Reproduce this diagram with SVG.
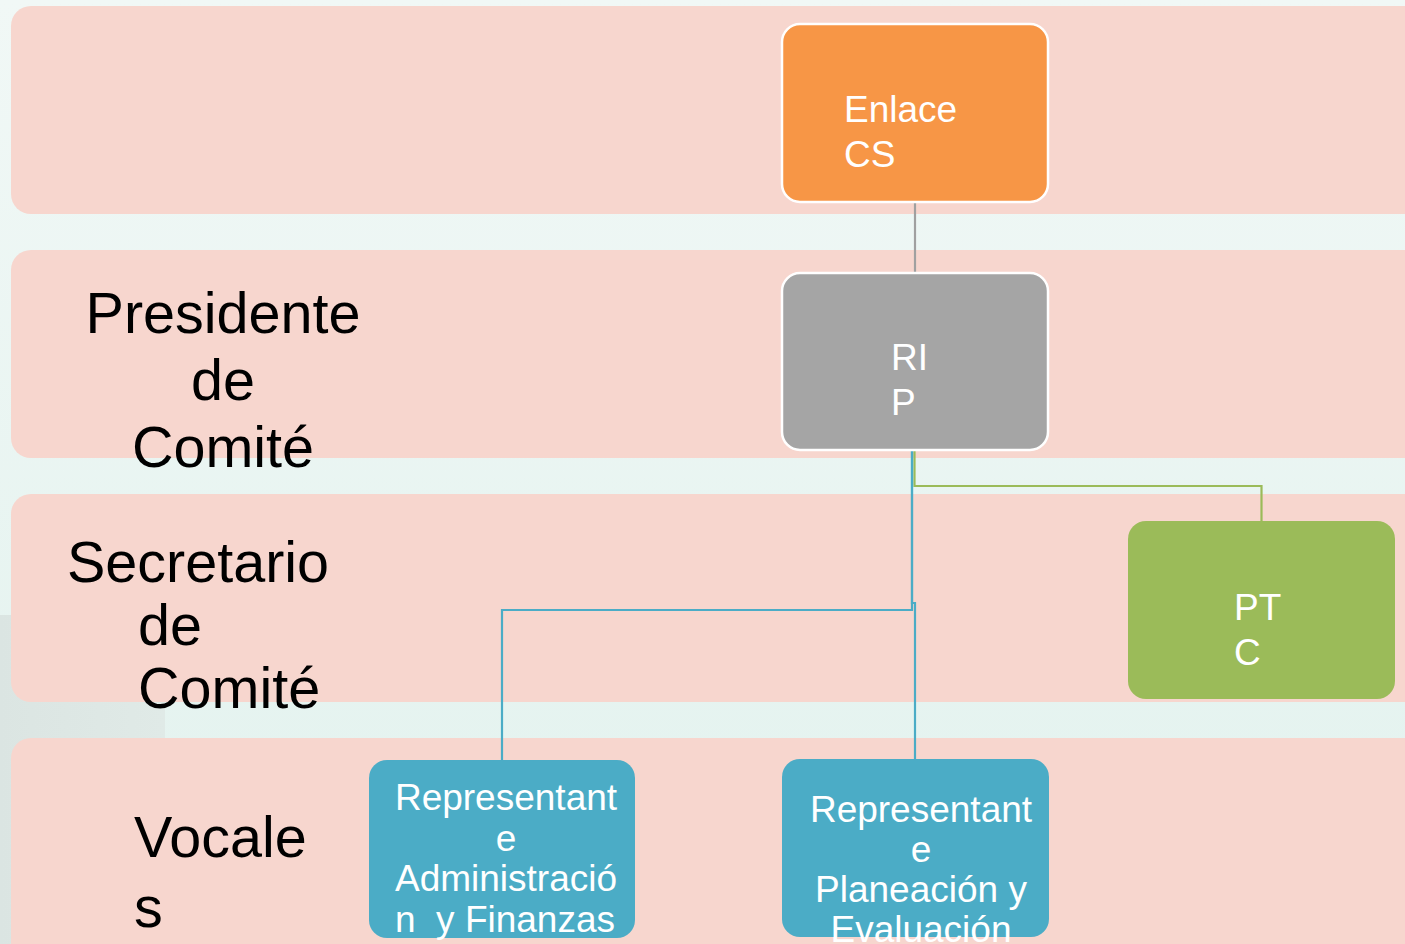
<svg xmlns="http://www.w3.org/2000/svg" width="1405" height="944" viewBox="0 0 1405 944">
<defs>
<linearGradient id="bg" x1="0" y1="0" x2="0" y2="1">
<stop offset="0" stop-color="#f1f8f6"/>
<stop offset="1" stop-color="#e2f2ee"/>
</linearGradient>
<linearGradient id="patch" x1="0" y1="0" x2="1" y2="0">
<stop offset="0" stop-color="#dbe5e2"/>
<stop offset="1" stop-color="#e0eae7"/>
</linearGradient>
</defs>
<style>
.band{fill:#f7d6ce}
.lbl{font-family:"Liberation Sans",Arial,sans-serif;font-size:57.5px;fill:#000}
.nt{font-family:"Liberation Sans",Arial,sans-serif;font-size:37px;fill:#fff}
.outline{stroke:#fff;stroke-width:2.5}
.conn{fill:none;stroke-width:2.2}
.pre{white-space:pre}
</style>
<rect x="0" y="0" width="1405" height="944" fill="url(#bg)"/>
<rect x="0" y="615" width="165" height="329" fill="url(#patch)"/>
<g id="bands">
<rect class="band" x="11" y="6" width="1420" height="208" rx="20"/>
<rect class="band" x="11" y="250" width="1420" height="208" rx="20"/>
<rect class="band" x="11" y="494" width="1420" height="208" rx="20"/>
<rect class="band" x="11" y="738" width="1420" height="230" rx="20"/>
</g>
<g id="row-labels">
<text class="lbl" text-anchor="middle"><tspan x="223" y="333">Presidente</tspan><tspan x="223" y="400">de</tspan><tspan x="223" y="467">Comité</tspan></text>
<text class="lbl"><tspan x="67" y="582">Secretario</tspan><tspan x="138" y="645">de</tspan><tspan x="138" y="708">Comité</tspan></text>
<text class="lbl"><tspan x="134" y="857">Vocale</tspan><tspan x="134" y="927">s</tspan></text>
</g>
<g id="connectors">
<path class="conn" stroke="#a0a0a0" d="M915 202 V272"/>
<path class="conn" stroke="#9bbb59" d="M914.5 450 V486 H1261.5 V521"/>
<path class="conn" stroke="#4bacc6" d="M912 450 V610 H502 V760"/>
<path class="conn" stroke="#4bacc6" d="M912 450 V603 H915 V759"/>
</g>
<g id="enlace-cs">
<rect class="outline" x="782" y="24" width="266" height="178" rx="18" fill="#f79646"/>
<text class="nt"><tspan x="844" y="122">Enlace</tspan><tspan x="844" y="167">CS</tspan></text>
</g>
<g id="rip">
<rect class="outline" x="782" y="273" width="266" height="177" rx="18" fill="#a5a5a5"/>
<text class="nt"><tspan x="891" y="370">RI</tspan><tspan x="891" y="415">P</tspan></text>
</g>
<g id="ptc">
<rect x="1128" y="521" width="267" height="178" rx="18" fill="#9bbb59"/>
<text class="nt"><tspan x="1234" y="620">PT</tspan><tspan x="1234" y="665">C</tspan></text>
</g>
<g id="rep-admin">
<rect x="369" y="760" width="266" height="178" rx="18" fill="#4bacc6"/>
<text class="nt pre" text-anchor="middle"><tspan x="506" y="810">Representant</tspan><tspan x="506" y="851">e</tspan><tspan x="506" y="891">Administració</tspan><tspan x="505" y="932">n  y Finanzas</tspan></text>
</g>
<g id="rep-planeacion">
<rect x="782" y="759" width="267" height="178" rx="18" fill="#4bacc6"/>
<text class="nt" text-anchor="middle"><tspan x="921" y="822">Representant</tspan><tspan x="921" y="862">e</tspan><tspan x="921" y="902">Planeación y</tspan><tspan x="921" y="942">Evaluación</tspan></text>
</g>
</svg>
